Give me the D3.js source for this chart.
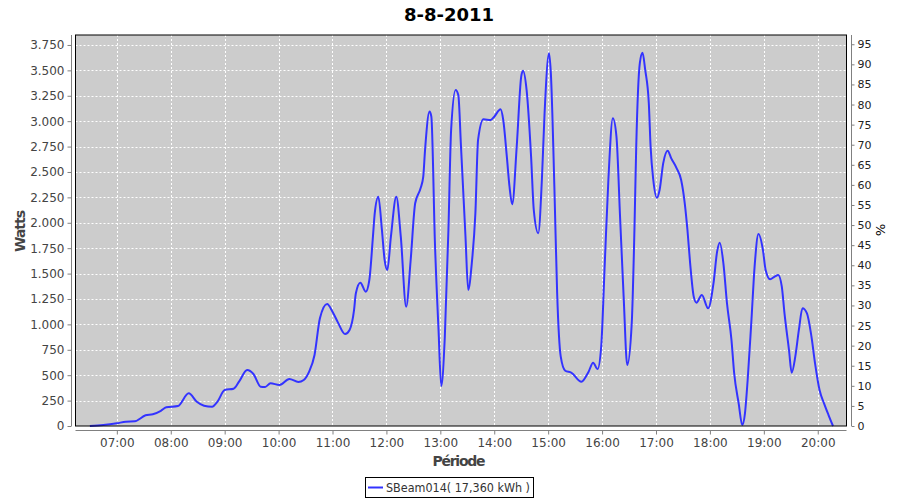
<!DOCTYPE html>
<html><head><meta charset="utf-8">
<script src="https://cdn.jsdelivr.net/npm/d3@7"></script>
<style>body{margin:0;background:#fff}svg{display:block}</style>
</head><body><svg id="c" width="900" height="500"></svg>
<script>
const title = "8-8-2011";
const seriesName = "SBeam014( 17,360 kWh )";
const times = ["06:30","06:45","07:00","07:10","07:20","07:32","07:40","07:49","07:55","08:08","08:20","08:29","08:37","08:46","08:52","09:00","09:10","09:16","09:25","09:32","09:40","09:45","09:51","10:01","10:12","10:22","10:28","10:34","10:40","10:46","10:54","11:00","11:06","11:14","11:19","11:24","11:26","11:31","11:37","11:41","11:45","11:47","11:51","11:55","11:58","12:01","12:05","12:11","12:16","12:22","12:27","12:32","12:38","12:41","12:43","12:48","12:50","12:54","12:58","13:01","13:05","13:09","13:12","13:17","13:20","13:23","13:28","13:31","13:35","13:39","13:42","13:48","13:56","14:00","14:07","14:10","14:14","14:17","14:20","14:25","14:30","14:32","14:36","14:41","14:44","14:49","14:53","14:56","15:01","15:03","15:07","15:10","15:14","15:19","15:26","15:37","15:45","15:50","15:55","15:59","16:03","16:07","16:12","16:16","16:20","16:24","16:28","16:33","16:36","16:38","16:42","16:45","16:48","16:52","16:54","16:57","17:01","17:04","17:08","17:13","17:17","17:23","17:28","17:32","17:35","17:38","17:42","17:45","17:51","17:58","18:04","18:08","18:11","18:15","18:19","18:24","18:27","18:32","18:36","18:39","18:42","18:46","18:50","18:54","18:59","19:02","19:07","19:12","19:16","19:20","19:23","19:28","19:31","19:35","19:39","19:43","19:48","19:53","19:57","20:02","20:07","20:12","20:17"];
const watts = [0,10,27,42,46,105,115,150,184,197,322,239,200,190,240,354,367,436,551,512,387,384,420,404,463,433,453,535,699,1060,1200,1125,1020,905,945,1142,1306,1410,1322,1437,1863,2093,2257,1929,1634,1535,1863,2257,1863,1174,1634,2192,2339,2454,2717,3094,3044,1798,945,394,879,1929,2913,3307,3258,2749,1863,1339,1601,2093,2815,3018,3012,3044,3117,3012,2651,2355,2182,2749,3438,3497,3307,2651,2126,1897,2421,3078,3668,3471,2323,1306,682,544,524,436,535,623,560,780,1601,2421,3028,2848,2060,1273,600,1010,1929,2749,3570,3674,3504,3176,2749,2421,2247,2323,2585,2710,2634,2536,2421,2192,1929,1601,1273,1214,1290,1159,1405,1716,1804,1601,1208,846,519,223,10,125,453,1010,1601,1890,1732,1535,1444,1470,1486,1371,1109,748,524,682,945,1159,1109,879,617,354,223,108,0];
const hourTicks = ["07:00","08:00","09:00","10:00","11:00","12:00","13:00","14:00","15:00","16:00","17:00","18:00","19:00","20:00"];
const wattTicks = [0,250,500,750,1000,1250,1500,1750,2000,2250,2500,2750,3000,3250,3500,3750];
const pctTicks = [0,5,10,15,20,25,30,35,40,45,50,55,60,65,70,75,80,85,90,95];

const svg = d3.select("#c");
const L = 75.5, R = 846.5, T = 35, B = 426;
const parseT = s => { const [h,m] = s.split(":").map(Number); return h*60+m; };
const x = d3.scaleLinear().domain([374, 1232]).range([L, R]);
const y = d3.scaleLinear().domain([0, 3848]).range([B, T]);
const yP = d3.scaleLinear().domain([0, 97.3]).range([B, T]);
const loc = d3.formatLocale({decimal:",", thousands:".", grouping:[3], currency:["",""]});
const fmt = loc.format(",d");
const font = "'DejaVu Sans', sans-serif";

svg.append("text").attr("x",449).attr("y",21).attr("text-anchor","middle")
  .attr("font-family",font).attr("font-weight","bold").attr("font-size",18).attr("fill","#000").text(title);

svg.append("rect").attr("x",L).attr("y",T).attr("width",R-L).attr("height",B-T).attr("fill","#cccccc");

const g = svg.append("g");
hourTicks.forEach(t => {
  const xv = Math.round(x(parseT(t)))+0.5;
  g.append("line").attr("x1",xv).attr("x2",xv).attr("y1",T).attr("y2",B)
    .attr("stroke","#fff").attr("stroke-width",1).attr("stroke-dasharray","2,2");
});
wattTicks.forEach(v => {
  const yv = Math.round(y(v))+0.5;
  g.append("line").attr("x1",L).attr("x2",R).attr("y1",yv).attr("y2",yv)
    .attr("stroke","#fff").attr("stroke-width",1).attr("stroke-dasharray","2,2");
});

const data = times.map((t,i)=>({m:parseT(t), v:watts[i]}));
svg.append("path").datum(data)
  .attr("d", d3.line().x(d=>x(d.m)).y(d=>y(d.v)).curve(d3.curveMonotoneX))
  .attr("fill","none").attr("stroke","#3333ff").attr("stroke-width",2);

svg.append("rect").attr("x",L).attr("y",T).attr("width",R-L).attr("height",B-T)
  .attr("fill","none").attr("stroke","#000").attr("stroke-width",1);

const ax = svg.append("g").attr("transform","translate(71.5,0)")
  .call(d3.axisLeft(y).tickValues(wattTicks).tickFormat(fmt).tickSize(4).tickPadding(3));
const bx = svg.append("g").attr("transform","translate(0,430.5)")
  .call(d3.axisBottom(x).tickValues(hourTicks.map(parseT)).tickFormat((d,i)=>hourTicks[i]).tickSize(4).tickPadding(4));
const rx = svg.append("g").attr("transform","translate(851.5,0)")
  .call(d3.axisRight(yP).tickValues(pctTicks).tickSize(3).tickPadding(3));
[ax,bx,rx].forEach(a=>{
  a.select(".domain").attr("stroke","#808080");
  a.selectAll(".tick line").attr("stroke","#808080");
  a.selectAll("text").attr("fill","#444").attr("font-family",font).attr("font-size",12);
});
ax.select(".domain").attr("d",`M0,${T}V${B}`);
rx.select(".domain").attr("d",`M0,${T}V${B}`);
bx.select(".domain").attr("d",`M${L},0H${R}`);
rx.selectAll("text").attr("font-size",11).attr("fill","#222");

svg.append("text").attr("transform","translate(25,231) rotate(-90)").attr("text-anchor","middle")
  .attr("font-family",font).attr("font-weight","bold").attr("font-size",14).attr("fill","#444")
  .attr("textLength",42).text("Watts");
svg.append("text").attr("x",459).attr("y",466).attr("text-anchor","middle")
  .attr("font-family",font).attr("font-weight","bold").attr("font-size",14).attr("fill","#444")
  .attr("textLength",53).text("Période");
svg.append("text").attr("transform","translate(876,230) rotate(90)").attr("text-anchor","middle")
  .attr("font-family",font).attr("font-size",13).attr("fill","#000").text("%");

svg.append("rect").attr("x",365.5).attr("y",477.5).attr("width",168).attr("height",20)
  .attr("fill","#fff").attr("stroke","#000");
svg.append("line").attr("x1",368).attr("x2",383).attr("y1",487.5).attr("y2",487.5)
  .attr("stroke","#3333ff").attr("stroke-width",2);
svg.append("text").attr("x",386).attr("y",492).attr("font-family",font).attr("font-size",12)
  .attr("fill","#333").attr("textLength",144).attr("lengthAdjust","spacingAndGlyphs").text(seriesName);
</script></body></html>
